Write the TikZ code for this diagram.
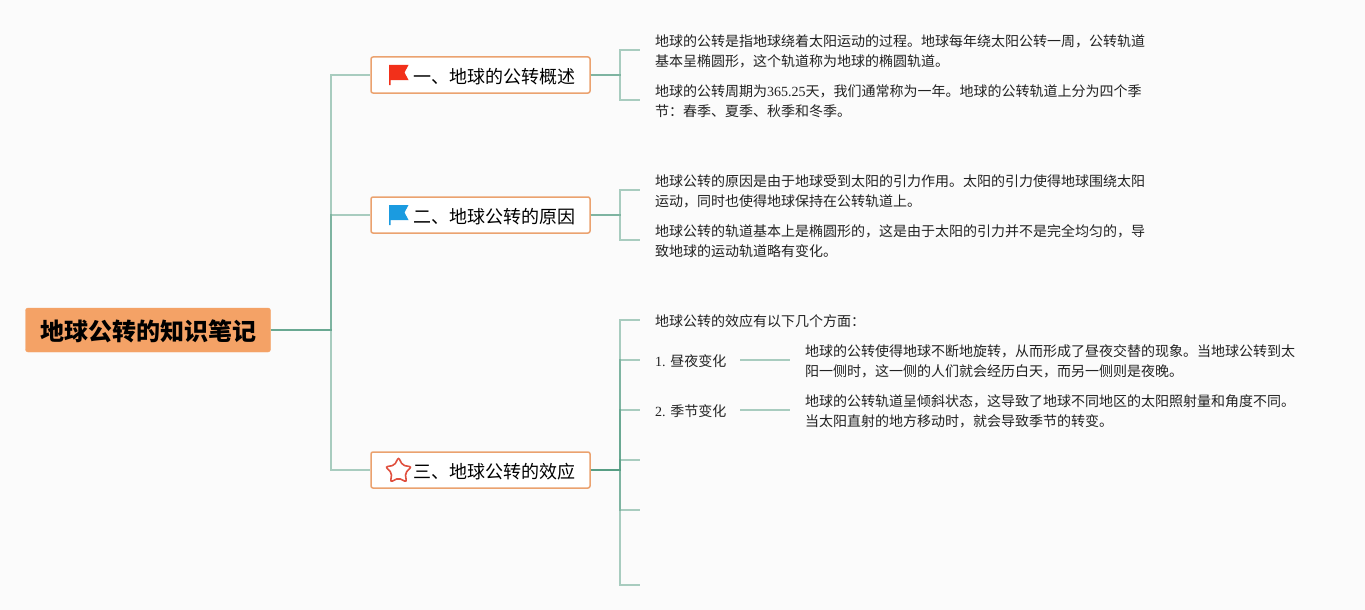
\documentclass[tikz,border=0pt]{standalone}
\usepackage{fontspec}
\usepackage{tikz}
\usetikzlibrary{shapes.geometric}
\setmainfont{Noto Sans CJK SC}
\newfontfamily\numfont{Liberation Serif}
\newcommand{\lowertext}[2]{\raisebox{-#1}[\height][\depth]{#2}}

\definecolor{paper}{HTML}{FBFBFB}
\definecolor{rootfill}{HTML}{F4A266}
\definecolor{boxline}{HTML}{EBA26F}
\definecolor{linkgreen}{HTML}{569E84}
\definecolor{bodytext}{HTML}{222222}
\definecolor{flagred}{HTML}{F2301A}
\definecolor{flagblue}{HTML}{1B9BE0}
\definecolor{starred}{HTML}{E0503F}

\tikzset{
    link/.style={draw=linkgreen,draw opacity=0.5,line width=1.4pt},
    rootbox/.style={fill=rootfill,draw=rootfill,rounded corners=2.5pt,minimum width=245pt,
        minimum height=44pt,inner sep=0pt,font=\fontsize{24}{28}\selectfont\bfseries,text=black},
    topicbox/.style={fill=white,draw=boxline,line width=1.5pt,rounded corners=2pt,minimum width=219pt,
        minimum height=36pt,inner sep=0pt,font=\fontsize{18}{22}\selectfont,text=black},
    leaftext/.style={anchor=west,align=left,inner xsep=15pt,inner ysep=0pt,
        font=\fontsize{14}{20}\selectfont,text=bodytext},
    steptext/.style={leaftext,text width=70pt}
}

\begin{document}
\begin{tikzpicture}[x=1pt,y=-1pt]
    \useasboundingbox (0,0) rectangle (1365,610);
    \fill[paper] (0,0) rectangle (1365,610);

    \node[rootbox] (root) at (148,330) {\lowertext{1.5pt}{地球公转的知识笔记}};
    \coordinate (rootbar) at (331,330);

    \node[topicbox] (orbit) at (480.5,75) {\hspace*{28pt}\lowertext{1.2pt}{一、地球的公转概述}};
    \node[topicbox] (cause) at (480.5,215) {\hspace*{28pt}\lowertext{1.2pt}{二、地球公转的原因}};
    \node[topicbox] (effect) at (480.5,470) {\hspace*{28pt}\lowertext{1.2pt}{三、地球公转的效应}};

    % icons
    \fill[flagred] (389,65) -- (408.5,65) -- (404.5,72.5) -- (408.5,80) -- (390.5,80)
        -- (390.5,85) -- (389,85) -- cycle;
    \fill[flagblue] (389,205) -- (408.5,205) -- (404.5,212.5) -- (408.5,220) -- (390.5,220)
        -- (390.5,225) -- (389,225) -- cycle;
    \node[star,star points=5,star point ratio=1.9,draw=starred,line width=1.6pt,
        rounded corners=2pt,minimum size=27pt,inner sep=0pt] (starmark) at (398.5,471) {};

    % first topic
    \node[leaftext] (orbitA) at (640,51) {地球的公转是指地球绕着太阳运动的过程。地球每年绕太阳公转一周，公转轨道\\基本呈椭圆形，这个轨道称为地球的椭圆轨道。};
    \node[leaftext] (orbitB) at (640,101) {地球的公转周期为{\numfont 365.25}天，我们通常称为一年。地球的公转轨道上分为四个季\\节：春季、夏季、秋季和冬季。};

    % second topic
    \node[leaftext] (causeA) at (640,191) {地球公转的原因是由于地球受到太阳的引力作用。太阳的引力使得地球围绕太阳\\运动，同时也使得地球保持在公转轨道上。};
    \node[leaftext] (causeB) at (640,241) {地球公转的轨道基本上是椭圆形的，这是由于太阳的引力并不是完全均匀的，导\\致地球的运动轨道略有变化。};

    % third topic
    \node[leaftext] (effectA) at (640,321) {地球公转的效应有以下几个方面：};
    \node[steptext] (dayNight) at (640,361) {\mbox{{\numfont 1.\ }昼夜变化}};
    \node[steptext] (seasons) at (640,411) {\mbox{{\numfont 2.\ }季节变化}};
    \node[leaftext] (dayNightText) at (790,361) {地球的公转使得地球不断地旋转，从而形成了昼夜交替的现象。当地球公转到太\\阳一侧时，这一侧的人们就会经历白天，而另一侧则是夜晚。};
    \node[leaftext] (seasonsText) at (790,411) {地球的公转轨道呈倾斜状态，这导致了地球不同地区的太阳照射量和角度不同。\\当太阳直射的地方移动时，就会导致季节的转变。};
    \coordinate (emptyA) at (640,460);
    \coordinate (emptyB) at (640,510);
    \coordinate (emptyC) at (640,585);

    \draw[link] (root.east) -- (rootbar) |- (orbit.west);
    \draw[link] (root.east) -- (rootbar) |- (cause.west);
    \draw[link] (root.east) -- (rootbar) |- (effect.west);

    \coordinate (orbitbar) at (620,75);
    \draw[link] (orbit.east) -- (orbitbar) |- (640,50) coordinate (orbitEndA);
    \draw[link] (orbit.east) -- (orbitbar) |- (640,100) coordinate (orbitEndB);

    \coordinate (causebar) at (620,215);
    \draw[link] (cause.east) -- (causebar) |- (640,190) coordinate (causeEndA);
    \draw[link] (cause.east) -- (causebar) |- (640,240) coordinate (causeEndB);

    \coordinate (effectbar) at (620,470);
    \draw[link] (effect.east) -- (effectbar) |- (640,320) coordinate (effectEndA);
    \draw[link] (effect.east) -- (effectbar) |- (640,360) coordinate (effectEndB);
    \draw[link] (effect.east) -- (effectbar) |- (640,410) coordinate (effectEndC);
    \draw[link] (effect.east) -- (effectbar) |- (emptyA);
    \draw[link] (effect.east) -- (effectbar) |- (emptyB);
    \draw[link] (effect.east) -- (effectbar) |- (emptyC);

    \draw[link] (dayNight.east |- 0,360) -- (dayNightText.west |- 0,360);
    \draw[link] (seasons.east |- 0,410) -- (seasonsText.west |- 0,410);

\end{tikzpicture}
\end{document}
